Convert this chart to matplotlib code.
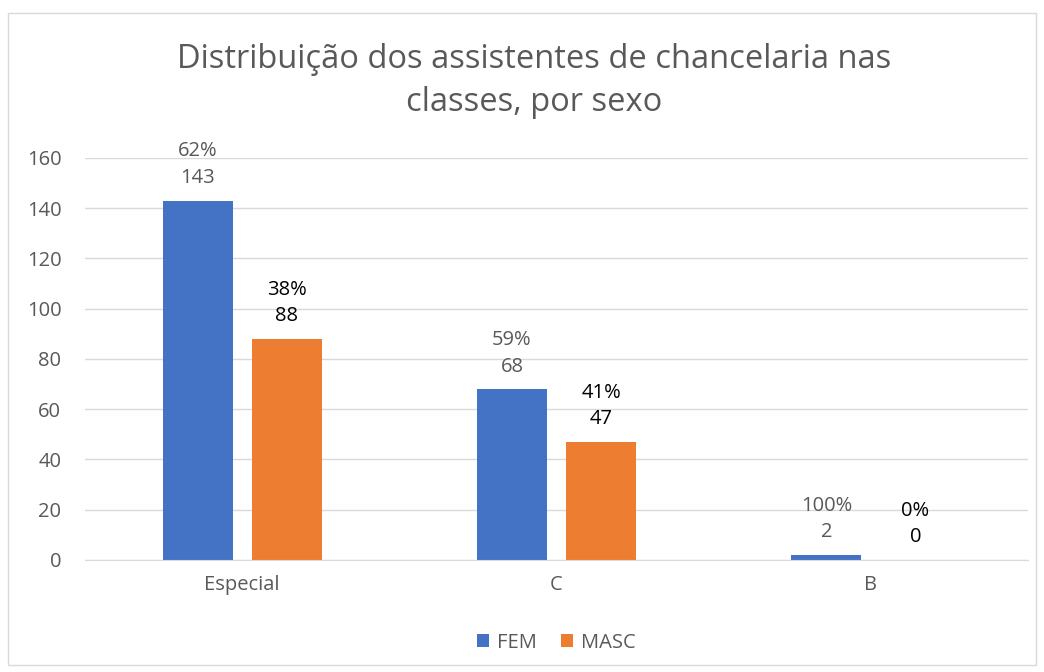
import matplotlib.pyplot as plt
import numpy as np

# dados
classes = ['Especial', 'C', 'B']
fem = [143, 68, 2]
masc = [88, 47, 0]
fem_pct = ['62%', '59%', '100%']
masc_pct = ['38%', '41%', '0%']

plt.rcParams['font.family'] = ['Open Sans', 'DejaVu Sans']

fig = plt.figure(figsize=(10.44, 6.72), dpi=100)
ax = fig.add_axes([0.0814, 0.1667, 0.9033, 0.5982])

# moldura
fig.patches.append(plt.Rectangle((8 / 1044, 7 / 672), 1028 / 1044, 652 / 672,
                                 transform=fig.transFigure, fill=False,
                                 edgecolor='#d9d9d9', linewidth=1))

x = np.arange(len(classes))
w = 0.223
off = 0.1416
b1 = ax.bar(x - off, fem, w, color='#4472c4', label='FEM')
b2 = ax.bar(x + off, masc, w, color='#ed7d31', label='MASC')

for i in range(len(classes)):
    ax.annotate(fem_pct[i] + '\n' + str(fem[i]), (x[i] - off, fem[i]),
                xytext=(0, 9), textcoords='offset points', ha='center', va='bottom',
                fontsize=14.5, color='#595959', linespacing=1.45)
    ax.annotate(masc_pct[i] + '\n' + str(masc[i]), (x[i] + off, masc[i]),
                xytext=(0, 9), textcoords='offset points', ha='center', va='bottom',
                fontsize=14.5, color='black', linespacing=1.45)

ax.set_xlim(-0.5, 2.5)
ax.set_ylim(0, 160)
ax.set_yticks(range(0, 161, 20))
ax.set_xticks(x)
ax.set_xticklabels(classes)
ax.yaxis.grid(True, color='#d9d9d9', linewidth=1)
ax.set_axisbelow(True)
for s in ['top', 'right', 'left']:
    ax.spines[s].set_visible(False)
ax.spines['bottom'].set_color('#d9d9d9')
ax.tick_params(axis='both', length=0, labelsize=14.5, colors='#595959', pad=11)
ax.tick_params(axis='y', pad=17)

fig.text(0.512, 0.879, 'Distribuição dos assistentes de chancelaria nas\nclasses, por sexo',
         ha='center', va='center', fontsize=23.5, color='#595959', linespacing=1.4)

ax.legend(loc='center', bbox_to_anchor=(0.5, -0.206), ncol=2, frameon=False,
          fontsize=14.5, labelcolor='#595959', handlelength=0.6, handleheight=0.6,
          columnspacing=1.2, handletextpad=0.4)

fig.savefig('out.png', dpi=100)
